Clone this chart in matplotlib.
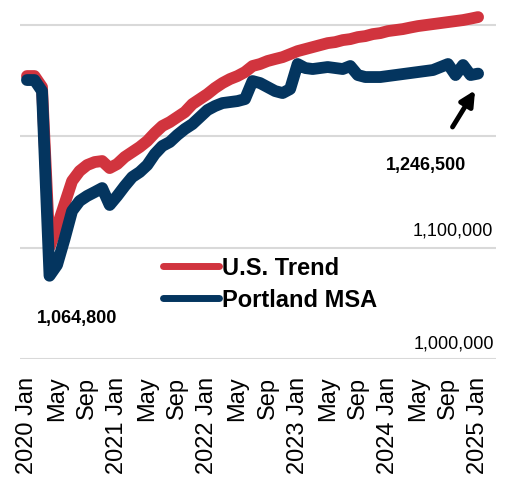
import matplotlib
matplotlib.use('Agg')
import matplotlib.pyplot as plt
import numpy as np

plt.rcParams['font.family'] = ['Liberation Sans', 'DejaVu Sans']

# monthly, Jan 2020 .. Jan 2025
months = np.arange(61)

us_trend = [1244300, 1244300, 1234400, 1090600, 1108600, 1129300, 1149900, 1158900,
            1164300, 1167000, 1167900, 1161600, 1165200, 1171500, 1176000, 1180500,
            1185900, 1193100, 1199400, 1202900, 1207400, 1211900, 1219100, 1223600,
            1228100, 1233500, 1238000, 1241600, 1244300, 1247900, 1253300, 1255100,
            1257800, 1259600, 1261300, 1264000, 1266700, 1268500, 1270300, 1272100,
            1273900, 1274800, 1276600, 1277500, 1279300, 1280200, 1282000, 1282900,
            1284700, 1285600, 1286500, 1287900, 1289200, 1290100, 1291000, 1291900,
            1292800, 1293700, 1294600, 1295900, 1297300]

portland = [1240700, 1240700, 1230800, 1064800, 1074500, 1097800, 1123000, 1132000,
            1136500, 1140000, 1143600, 1128400, 1136500, 1145400, 1153500, 1158000,
            1164300, 1174200, 1181400, 1185000, 1191300, 1196700, 1201100, 1207400,
            1213700, 1217300, 1220000, 1220900, 1221800, 1223600, 1239800, 1238000,
            1234400, 1230800, 1229000, 1232600, 1255100, 1251500, 1250600, 1251500,
            1252400, 1251500, 1250600, 1253300, 1245200, 1243400, 1243400, 1243400,
            1244300, 1245200, 1246100, 1247000, 1247900, 1248800, 1249700, 1252400,
            1255100, 1245200, 1254200, 1245200, 1246500]

tick_pos = list(range(0, 61, 4))
tick_labels = ['2020 Jan', 'May', 'Sep', '2021 Jan', 'May', 'Sep', '2022 Jan', 'May',
               'Sep', '2023 Jan', 'May', 'Sep', '2024 Jan', 'May', 'Sep', '2025 Jan']

grid_vals = [990000, 1090000, 1190000, 1290000]

red = '#D1343E'
navy = '#04355F'

fig = plt.figure(figsize=(5.12, 4.81), dpi=100)
ax = fig.add_axes([0.039, 0.2516, 0.930, 0.7254])

ax.plot(months, us_trend, color=red, lw=8.5, solid_capstyle='round',
        solid_joinstyle='round', label='U.S. Trend', zorder=3)
ax.plot(months, portland, color=navy, lw=8.5, solid_capstyle='round',
        solid_joinstyle='round', label='Portland MSA', zorder=4)

ax.set_xlim(-0.93, 62.4)
ax.set_ylim(990000, 1303600)
ax.set_yticks(grid_vals)
ax.set_yticklabels([])
ax.tick_params(axis='y', length=0)
ax.grid(axis='y', color='#D9D9D9', lw=1.5)
ax.set_axisbelow(True)

ax.set_xticks(tick_pos)
ax.set_xticklabels(tick_labels, rotation=90, fontsize=17)
ax.tick_params(axis='x', length=0, pad=12)

for s in ax.spines.values():
    s.set_visible(False)

ax.text(62.0, 1105900, '1,100,000', fontsize=13, ha='right', va='center')
ax.text(62.2, 1004400, '1,000,000', fontsize=13, ha='right', va='center')
ax.text(6.65, 1027700, '1,064,800', fontsize=13, fontweight='bold', ha='center', va='center')
ax.text(53.1, 1165200, '1,246,500', fontsize=13, fontweight='bold', ha='center', va='center')
ax.annotate('', xy=(59.6, 1231500), xytext=(56.6, 1198500),
            arrowprops=dict(arrowstyle='-|>', color='black', lw=3.5, mutation_scale=22,
                            shrinkA=0, shrinkB=0))

leg = ax.legend(loc='upper left', bbox_to_anchor=(0.30, 0.295), frameon=False,
                prop={'size': 17, 'weight': 'bold'}, handlelength=2.4,
                handletextpad=0.1, labelspacing=0.38, borderpad=0, borderaxespad=0)
for line in leg.get_lines():
    line.set_linewidth(5)

fig.savefig('out.png', dpi=100)
